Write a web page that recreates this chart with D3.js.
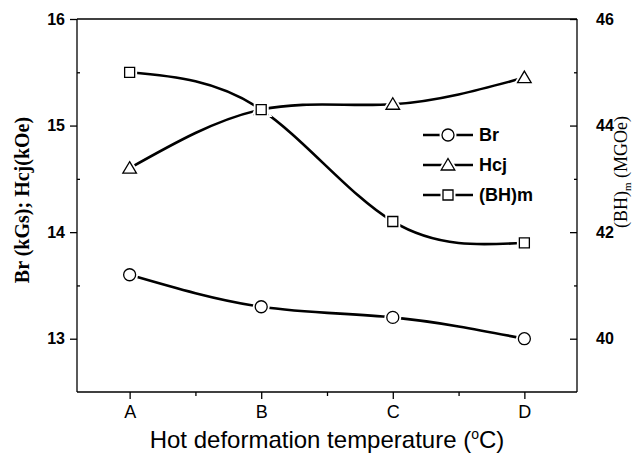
<!DOCTYPE html>
<meta charset="utf-8">
<style>
body { margin: 0; background: #fff; }
svg { display: block; }
.tick text { fill: #000; }
.axis path, .axis line { stroke: #000; stroke-width: 1.3px; }
.data-line { fill: none; stroke: #000; stroke-width: 2.6px; }
.marker { fill: #fff; stroke: #000; stroke-width: 1.3px; }
.halo { fill: #fff; stroke: #fff; stroke-width: 5px; }
</style>
<body>
<svg width="636" height="457"></svg>
<script src="https://cdn.jsdelivr.net/npm/d3@7"></script>
<script>
// values
var categories = ["A", "B", "C", "D"];
var brValues = [13.6, 13.3, 13.2, 13.0];      // kGs, left axis
var hcjValues = [14.6, 15.15, 15.2, 15.45];   // kOe, left axis
var bhValues = [45.0, 44.3, 42.2, 41.8];      // MGOe, right axis
var leftTicks = [13, 14, 15, 16];
var leftMinor = [13.5, 14.5, 15.5];
var rightTicks = [40, 42, 44, 46];
var rightMinor = [41, 43, 45];

var svg = d3.select("svg"),
    margin = {top: 19, right: 59, bottom: 65, left: 77},
    width = +svg.attr("width") - margin.left - margin.right,
    height = +svg.attr("height") - margin.top - margin.bottom;

var x = d3.scaleLinear().domain([-0.4, 3.4]).range([0, width]);
var y = d3.scaleLinear().domain([12.5, 16]).range([height, 0]);
var y2 = d3.scaleLinear().domain([39, 46]).range([height, 0]);

var g = svg.append("g")
    .attr("transform", "translate(" + margin.left + "," + margin.top + ")");

// frame top line
g.append("line")
    .attr("x1", 0).attr("x2", width).attr("y1", 0).attr("y2", 0)
    .attr("stroke", "#000").attr("stroke-width", 1.3);

// left axis
var yAxis = g.append("g")
    .attr("class", "axis")
    .call(d3.axisLeft(y).tickValues(leftTicks).tickSize(7).tickPadding(5).tickFormat(d3.format("d")));
yAxis.select(".domain").attr("d", "M0," + height + "V0");
yAxis.selectAll("text")
    .style("font", "bold 16px 'Liberation Sans', Arial, sans-serif");
g.append("g")
    .attr("class", "axis")
    .call(d3.axisRight(y).tickValues(leftMinor).tickSize(3).tickFormat(""))
    .select(".domain").remove();

// right axis (ticks inward)
var y2Axis = g.append("g")
    .attr("class", "axis")
    .attr("transform", "translate(" + width + ",0)")
    .call(d3.axisRight(y2).tickValues(rightTicks).tickSize(-7).tickPadding(19).tickFormat(d3.format("d")));
y2Axis.select(".domain").attr("d", "M0," + height + "V0");
y2Axis.selectAll("text")
    .style("font", "bold 16px 'Liberation Sans', Arial, sans-serif");
g.append("g")
    .attr("class", "axis")
    .attr("transform", "translate(" + width + ",0)")
    .call(d3.axisLeft(y2).tickValues(rightMinor).tickSize(3).tickFormat(""))
    .select(".domain").remove();

// bottom axis
var xAxis = g.append("g")
    .attr("class", "axis")
    .attr("transform", "translate(0," + height + ")")
    .call(d3.axisBottom(x).tickValues([0, 1, 2, 3]).tickSize(7).tickPadding(6)
      .tickFormat(function(d) { return categories[d]; }));
xAxis.select(".domain").attr("d", "M0,0H" + width);
xAxis.selectAll("text")
    .style("font", "18px 'Liberation Sans', Arial, sans-serif");
g.append("g")
    .attr("class", "axis")
    .attr("transform", "translate(0," + height + ")")
    .call(d3.axisBottom(x).tickValues([0.5, 1.5, 2.5]).tickSize(4).tickFormat(""))
    .select(".domain").remove();

// axis titles
var xt = svg.append("text")
    .attr("x", margin.left + width / 2)
    .attr("y", 448)
    .attr("text-anchor", "middle")
    .style("font", "24px 'Liberation Sans', Arial, sans-serif");
xt.append("tspan").text("Hot deformation temperature (");
xt.append("tspan").attr("font-size", "14px").attr("dy", "-9").text("o");
xt.append("tspan").attr("dy", "9").text("C)");

svg.append("text")
    .attr("transform", "translate(29,200) rotate(-90)")
    .attr("text-anchor", "middle")
    .style("font", "bold 20px 'Liberation Serif', 'Times New Roman', serif")
    .text("Br (kGs); Hcj(kOe)");

var rt = svg.append("text")
    .attr("transform", "translate(627,172) rotate(-90)")
    .attr("text-anchor", "middle")
    .style("font", "18px 'Liberation Serif', 'Times New Roman', serif");
rt.append("tspan").text("(BH)");
rt.append("tspan").attr("font-size", "11px").attr("dy", "4").text("m");
rt.append("tspan").attr("dy", "-4").text(" (MGOe)");

// series
var series = [
  {name: "Br", values: brValues, scale: y, shape: "circle"},
  {name: "Hcj", values: hcjValues, scale: y, shape: "triangle"},
  {name: "(BH)m", values: bhValues, scale: y2, shape: "square"}
];

function markerPath(shape) {
  if (shape === "circle") return d3.symbol().type(d3.symbolCircle).size(Math.PI * 36)();
  if (shape === "square") return "M-5,-5H5V5H-5Z";
  return "M0,-6.5L6.8,5L-6.8,5Z";
}

series.forEach(function(s) {
  var line = d3.line().curve(d3.curveNatural)
      .x(function(d, i) { return x(i); })
      .y(function(d) { return s.scale(d); });
  g.append("path")
      .datum(s.values)
      .attr("class", "data-line")
      .attr("d", line);
});

series.forEach(function(s) {
  var m = g.append("g");
  m.selectAll(".halo")
      .data(s.values)
    .enter().append("path")
      .attr("class", "halo")
      .attr("d", markerPath(s.shape))
      .attr("transform", function(d, i) { return "translate(" + x(i) + "," + s.scale(d) + ")"; });
  m.selectAll(".marker")
      .data(s.values)
    .enter().append("path")
      .attr("class", "marker")
      .attr("d", markerPath(s.shape))
      .attr("transform", function(d, i) { return "translate(" + x(i) + "," + s.scale(d) + ")"; });
});

// legend
var legend = svg.append("g").attr("transform", "translate(423,135)");
series.forEach(function(s, i) {
  var row = legend.append("g").attr("transform", "translate(0," + (i * 30) + ")");
  row.append("line")
      .attr("x1", 0).attr("x2", 50).attr("y1", 0).attr("y2", 0)
      .attr("stroke", "#000").attr("stroke-width", 2.6);
  row.append("path").attr("class", "halo").attr("d", markerPath(s.shape)).attr("transform", "translate(25,0)");
  row.append("path").attr("class", "marker").attr("d", markerPath(s.shape)).attr("transform", "translate(25,0)");
  row.append("text")
      .attr("x", 56).attr("y", 0).attr("dy", "0.36em")
      .style("font", "bold 18px 'Liberation Sans', Arial, sans-serif")
      .text(s.name);
});
</script>
